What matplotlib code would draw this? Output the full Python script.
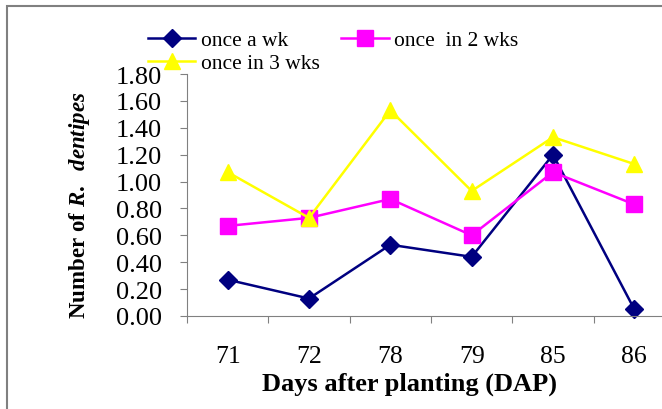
import numpy as np
import matplotlib
matplotlib.use("Agg")
import matplotlib.pyplot as plt
from matplotlib.patches import Rectangle

plt.rcParams['font.family'] = 'Liberation Serif'
plt.rcParams['mathtext.fontset'] = 'custom'
plt.rcParams['mathtext.rm'] = 'Liberation Serif:bold'
plt.rcParams['mathtext.it'] = 'Liberation Serif:italic:bold'

days = ['71', '72', '78', '79', '85', '86']
once_a_wk = [0.27, 0.13, 0.53, 0.44, 1.20, 0.05]
once_in_2_wks = [0.67, 0.73, 0.87, 0.60, 1.07, 0.83]
once_in_3_wks = [1.07, 0.73, 1.53, 0.93, 1.33, 1.13]
y_ticks = [0.0, 0.2, 0.4, 0.6, 0.8, 1.0, 1.2, 1.4, 1.6, 1.8]

fig = plt.figure(figsize=(6.62, 4.10), dpi=100)
ax = fig.add_axes([187/662, 93/410, 488/662, 242/410])

x = np.arange(len(days))
l1, = ax.plot(x, once_a_wk, color='#000080', lw=1.8, marker='D', ms=9)
l2, = ax.plot(x, once_in_2_wks, color='#FF00FF', lw=1.8, marker='s', ms=11)
l3, = ax.plot(x, once_in_3_wks, color='#FFFF00', lw=1.8, marker='^', ms=12)

ax.set_ylim(0, 1.8)
ax.set_xlim(-0.5, len(days) - 0.5)
ax.set_yticks(y_ticks)
ax.set_yticklabels(['%.2f' % v for v in y_ticks])

# category boundaries get the tick marks, centers get the labels
ax.set_xticks(np.arange(len(days) + 1) - 0.5)
ax.set_xticklabels([])
ax.set_xticks(x, minor=True)
ax.set_xticklabels(days, minor=True)
ax.tick_params(axis='x', which='minor', length=0, pad=21, labelsize=18.5)
ax.tick_params(axis='x', which='major', length=5, direction='out', color='#808080')
ax.tick_params(axis='y', length=5, direction='out', color='#808080', pad=13, labelsize=19)

for side in ['top', 'right']:
    ax.spines[side].set_visible(False)
for side in ['left', 'bottom']:
    ax.spines[side].set_color('#808080')
for ln in (l1, l2, l3):
    ln.set_clip_on(False)

fig.text(410/662, 1 - 384/410, 'Days after planting (DAP)', fontsize=19,
         fontweight='bold', ha='center', va='center')
fig.text(80/662, 1 - 205/410, r'$\mathrm{Number\ of\ }\mathit{R.\ \ dentipes}$',
         fontsize=16.5, rotation=90, ha='center', va='center')

fig.legend([l1, l3, l2], ['once a wk', 'once in 3 wks', 'once  in 2 wks'],
           ncol=2, loc='upper left', bbox_to_anchor=(148/662, 1 - 31/410),
           frameon=False, fontsize=15.5, handlelength=2.2, handletextpad=0.25,
           columnspacing=1.0, labelspacing=0.15, borderpad=0, borderaxespad=0)

fig.patches.append(Rectangle((7/662, -0.1), 1.2, 1.1 - 7/410, transform=fig.transFigure,
                             fill=False, ec='#808080', lw=1.5))

fig.savefig('out.png', dpi=100)
